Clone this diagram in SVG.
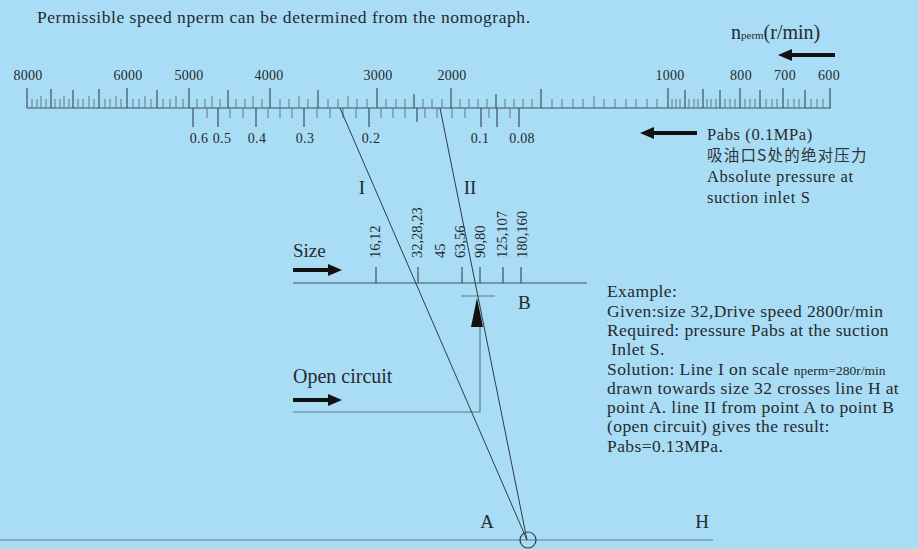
<svg xmlns="http://www.w3.org/2000/svg" width="918" height="549" viewBox="0 0 918 549">
<style>
.t{font-family:"Liberation Serif","Times New Roman",serif;fill:#262a2e}
.s13{font-size:14px;letter-spacing:0.3px}
.s16{font-size:17.5px;letter-spacing:0.4px}
.s17{font-size:16.5px;letter-spacing:0.6px}
.s18{font-size:19px}
.tk{stroke:#3e5160;stroke-width:1.2;fill:none}
.tk2{stroke:#5d7686;stroke-width:1;fill:none}
.ln{stroke:#2c3c48;stroke-width:1;fill:none}
.gl{stroke:#5b7a8e;stroke-width:1.2;fill:none}
.ar{fill:#111}
</style>
<rect width="918" height="549" fill="#a9ddf5"/>

<text class="t" x="37" y="23" style="font-size:17.5px" textLength="493" lengthAdjust="spacing">Permissible speed nperm can be determined from the  nomograph.</text>

<g id="nperm-scale">
<path class="tk" d="M27,108 H831"/>
<path class="tk" d="M27,108V88 M51,108V89 M73,108V90 M99,108V89 M127,108V88 M157,108V90 M189,108V88 M228,108V90 M270,108V88 M318,108V90 M377,108V88 M451,108V88 M541,108V89 M668,108V88 M685,108V90 M703,108V89 M720,108V90 M740,108V88 M760,108V90 M783,108V88 M805,108V90 M830,108V88 M414,108V94 M496,108V94"/>
<path class="tk2" d="M32,108V99 M37,108V99 M41,108V96 M46,108V99 M55,108V99 M60,108V99 M64,108V96 M69,108V99 M78,108V99 M83,108V99 M89,108V96 M94,108V99 M105,108V99 M110,108V99 M116,108V96 M121,108V99 M133,108V99 M139,108V99 M145,108V96 M151,108V99 M163,108V99 M170,108V99 M176,108V96 M183,108V99 M197,108V99 M205,108V99 M212,108V96 M220,108V99 M236,108V99 M245,108V99 M253,108V96 M262,108V99 M280,108V99 M289,108V99 M299,108V96 M308,108V99 M328,108V99 M338,108V99 M348,108V96 M357,108V99 M367,108V99 M386,108V99 M396,108V99 M405,108V99 M423,108V99 M432,108V99 M442,108V99 M460,108V99 M469,108V99 M478,108V99 M487,108V99 M505,108V99 M514,108V99 M523,108V99 M532,108V99 M552,108V99 M562,108V99 M573,108V99 M583,108V99 M594,108V96 M604,108V99 M615,108V99 M626,108V99 M636,108V99 M647,108V99 M657,108V99 M672,108V99 M676,108V99 M680,108V99 M689,108V99 M694,108V99 M698,108V99 M707,108V99 M711,108V99 M716,108V99 M725,108V99 M730,108V99 M735,108V99 M745,108V99 M750,108V99 M755,108V99 M766,108V99 M772,108V99 M777,108V99 M788,108V99 M794,108V99 M799,108V99 M811,108V99 M817,108V99 M823,108V99"/>
<path class="tk" d="M193,108V127 M218,108V127 M256,108V127 M304,108V127 M369,108V127 M481,108V127 M497,108V127 M519,108V127 M417,108V122"/>
<path class="tk2" d="M207,108V118 M230,108V118 M243,108V118 M268,108V118 M280,108V118 M292,108V118 M317,108V118 M330,108V118 M343,108V118 M356,108V118 M381,108V118 M393,108V118 M405,108V118 M425,108V118 M437,108V118 M452,108V118 M465,108V118 M489,108V118 M510,108V118"/>
<g class="t s13" text-anchor="middle">
<text x="28" y="80">8000</text>
<text x="128" y="80">6000</text>
<text x="189" y="80">5000</text>
<text x="269" y="80">4000</text>
<text x="378" y="80">3000</text>
<text x="452" y="80">2000</text>
<text x="670" y="80">1000</text>
<text x="741" y="80">800</text>
<text x="785" y="80">700</text>
<text x="829" y="80">600</text>
<text x="199" y="143">0.6</text>
<text x="222" y="143">0.5</text>
<text x="257" y="143">0.4</text>
<text x="305" y="143">0.3</text>
<text x="371" y="143">0.2</text>
<text x="480" y="143">0.1</text>
<text x="522" y="143">0.08</text>
</g>
</g>

<g id="nperm-label">
<text class="t" x="731" y="39" style="font-size:20px">n<tspan style="font-size:11px">perm</tspan>(r/min)</text>
<path class="ar" d="M835,53 H792 V49 L778,55 L792,61 V57 H835 Z"/>
</g>

<g id="pabs-label">
<path class="ar" d="M697,131 H654 V127 L640,133 L654,139 V135 H697 Z"/>
<text class="t s17" x="707" y="140">Pabs  (0.1MPa)</text>
<text class="t" x="707" y="161" style="font-family:'Noto Sans CJK SC',sans-serif;font-size:15.5px;letter-spacing:1.2px;fill:#2f3438">吸油口S处的绝对压力</text>
<text class="t s17" x="707" y="182">Absolute pressure at</text>
<text class="t s17" x="707" y="203">suction inlet S</text>
</g>

<g id="size-scale">
<text class="t s18" x="293" y="257">Size</text>
<path class="ar" d="M293,268 H328 V264 L342,270 L328,276 V272 H293 Z"/>
<path class="tk" d="M293,283 H587 M376,283V267 M418,283V267 M462,283V267 M480,283V267 M503,283V267 M521,283V267"/>
<g class="t" style="font-size:14.5px">
<text transform="translate(380,258) rotate(-90)">16,12</text>
<text transform="translate(422,258) rotate(-90)">32,28,23</text>
<text transform="translate(445,258) rotate(-90)">45</text>
<text transform="translate(465,258) rotate(-90)">63,56</text>
<text transform="translate(485,258) rotate(-90)">90,80</text>
<text transform="translate(507,258) rotate(-90)">125,107</text>
<text transform="translate(527,258) rotate(-90)">180,160</text>
</g>
</g>

<g id="point-B">
<path class="gl" d="M461,296 H495"/>
<path class="ar" d="M477,298 L483,327 L471,327 Z"/>
<text class="t s18" x="518" y="309">B</text>
</g>

<g id="open-circuit">
<text class="t" x="293" y="383" style="font-size:20px">Open circuit</text>
<path class="ar" d="M293,398 H328 V394 L342,400 L328,406 V402 H293 Z"/>
<path class="gl" d="M293,412 H480 V327"/>
</g>

<g id="H-line">
<path class="gl" d="M0,540 H713"/>
<circle cx="528" cy="540" r="8" fill="none" stroke="#2c3c48" stroke-width="1.2"/>
<text class="t s18" x="487" y="528" text-anchor="middle">A</text>
<text class="t s18" x="702" y="528" text-anchor="middle">H</text>
</g>

<g id="connectors">
<path class="ln" d="M340,108 L527,540"/>
<path class="ln" d="M440,108 L527,540"/>
<text class="t s18" x="362" y="194" text-anchor="middle">I</text>
<text class="t s18" x="470" y="194" text-anchor="middle">II</text>
</g>

<g id="example" class="t s16">
<text x="607" y="297">Example:</text>
<text x="607" y="317">Given:size 32,Drive speed 2800r/min</text>
<text x="607" y="336">Required: pressure Pabs at the suction</text>
<text x="611" y="355">Inlet S.</text>
<text x="607" y="375">Solution: Line I on scale <tspan style="font-size:13.5px;letter-spacing:0">nperm=280r/min</tspan></text>
<text x="607" y="394">drawn towards size 32 crosses line H at</text>
<text x="607" y="413">point A. line II from point A to point B</text>
<text x="607" y="432">(open circuit) gives the result:</text>
<text x="607" y="452">Pabs=0.13MPa.</text>
</g>
</svg>
